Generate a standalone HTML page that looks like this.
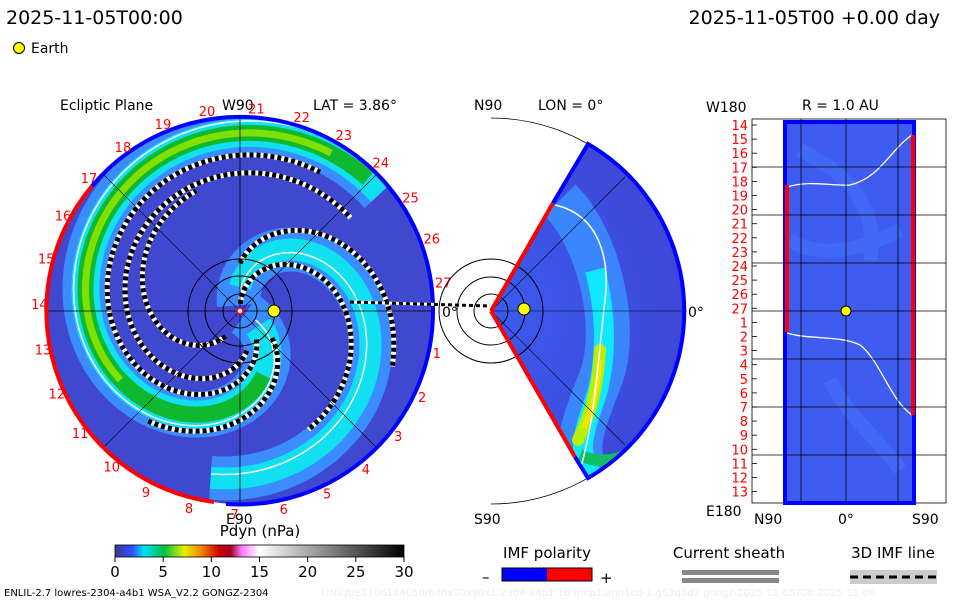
<!DOCTYPE html>
<html><head><meta charset="utf-8"><style>
body{margin:0;background:#fff;width:960px;height:600px;overflow:hidden}
svg{display:block}
text{font-family:"DejaVu Sans","Liberation Sans",sans-serif}
</style></head><body>
<svg id="s" width="960" height="600" viewBox="0 0 960 600">
<defs>
<clipPath id="cl"><circle cx="240" cy="311" r="193"/></clipPath>
<clipPath id="cm"><path d="M491,311 L588,144 A193,193 0 0 1 588,478 Z"/></clipPath>
<linearGradient id="cb" x1="0" x2="1">
<stop offset="0" stop-color="#3a3a90"/><stop offset="0.06" stop-color="#3050ff"/>
<stop offset="0.1" stop-color="#00e0ff"/><stop offset="0.17" stop-color="#00c040"/>
<stop offset="0.24" stop-color="#e8f000"/><stop offset="0.3" stop-color="#f08000"/>
<stop offset="0.36" stop-color="#d00000"/><stop offset="0.4" stop-color="#a00020"/>
<stop offset="0.44" stop-color="#ff80ff"/><stop offset="0.5" stop-color="#ffffff"/>
<stop offset="1" stop-color="#000000"/></linearGradient>
<radialGradient id="mg" cx="491" cy="311" r="193" gradientUnits="userSpaceOnUse">
<stop offset="0" stop-color="#3a5cf0"/><stop offset="1" stop-color="#3e48d8"/></radialGradient>
</defs>
<text x="6" y="24" font-size="19">2025-11-05T00:00</text>
<text x="940" y="24" font-size="19" text-anchor="end">2025-11-05T00 +0.00 day</text>
<circle cx="19" cy="48" r="5.5" fill="#ff0" stroke="#000"/>
<text x="31" y="53" font-size="14">Earth</text>

<g>
<circle cx="240" cy="311" r="193" fill="#4048d0"/>
<g clip-path="url(#cl)" id="arms"></g>
<line x1="47" y1="311" x2="433" y2="311" stroke="#000" stroke-width="0.8"/>
<line x1="240" y1="118" x2="240" y2="504" stroke="#000" stroke-width="0.8"/>
<line x1="104" y1="175" x2="376" y2="447" stroke="#000" stroke-width="0.6"/>
<line x1="104" y1="447" x2="376" y2="175" stroke="#000" stroke-width="0.6"/>
<circle cx="240" cy="311" r="17" fill="none" stroke="#000"/>
<circle cx="240" cy="311" r="35" fill="none" stroke="#000"/>
<circle cx="240" cy="311" r="52" fill="none" stroke="#000"/>
<path d="M92,186 A193,193 0 0 0 214,502" fill="none" stroke="#f00" stroke-width="4"/>
<path d="M92,186 A193,193 0 0 1 433,311 A193,193 0 0 1 226,504" fill="none" stroke="#00f" stroke-width="4"/>
<circle cx="274" cy="311" r="6" fill="#ff0" stroke="#000"/>
<circle cx="240" cy="311" r="3" fill="#fff" stroke="#f00" stroke-width="1.5"/>
<text x="60" y="110" font-size="14">Ecliptic Plane</text>
<text x="222" y="110" font-size="14">W90</text>
<text x="313" y="110" font-size="14">LAT = 3.86°</text>
<text x="226" y="524" font-size="14">E90</text>
<text x="442" y="317" font-size="14">0°</text>
<g id="clock" fill="#f00" font-size="13"></g>
<path d="M350,302 L490,306" stroke="#fff" stroke-width="3" fill="none"/>
<path d="M350,302 L490,306" stroke="#000" stroke-width="3" stroke-dasharray="4 3" fill="none"/>
</g>

<g>
<path d="M491,118 A193,193 0 0 1 491,504" fill="none" stroke="#000" stroke-width="0.8"/>
<path d="M491,311 L588,144 A193,193 0 0 1 588,478 Z" fill="url(#mg)"/>
<g clip-path="url(#cm)">
<path d="M560,200 C600,240 620,330 600,380 C585,420 570,450 590,480" stroke="#3a8cff" stroke-width="44" fill="none" opacity="0.9"/>
<path d="M595,270 C608,320 605,360 598,390 C585,430 575,450 592,475" stroke="#10e8ff" stroke-width="20" fill="none"/>
<path d="M600,350 C598,390 590,415 578,440" stroke="#b8f000" stroke-width="12" fill="none" stroke-linecap="round"/>
<path d="M600,360 C598,390 592,410 584,428" stroke="#f0e800" stroke-width="5" fill="none"/>
<path d="M580,455 C600,465 620,460 640,450" stroke="#10c060" stroke-width="12" fill="none"/>
<path d="M555,205 C600,215 610,260 605,300 C598,360 595,420 580,470" stroke="#fff" stroke-width="1.5" fill="none"/>
</g>
<line x1="491" y1="311" x2="687" y2="311" stroke="#000" stroke-width="0.6"/>
<line x1="491" y1="311" x2="625" y2="177" stroke="#000" stroke-width="0.6"/>
<line x1="491" y1="311" x2="625" y2="445" stroke="#000" stroke-width="0.6"/>
<circle cx="491" cy="311" r="17" fill="none" stroke="#000"/>
<circle cx="491" cy="311" r="34" fill="none" stroke="#000"/>
<circle cx="491" cy="311" r="52" fill="none" stroke="#000"/>
<line x1="491" y1="311" x2="553" y2="203" stroke="#f00" stroke-width="4"/>
<line x1="491" y1="311" x2="575" y2="457" stroke="#f00" stroke-width="4"/>
<path d="M553,203 L588,144 A193,193 0 0 1 588,478 L575,457" fill="none" stroke="#00f" stroke-width="4"/>
<circle cx="524" cy="309" r="6" fill="#ff0" stroke="#000"/>
<text x="474" y="110" font-size="14">N90</text>
<text x="538" y="110" font-size="14">LON = 0°</text>
<text x="474" y="524" font-size="14">S90</text>
<text x="688" y="317" font-size="14">0°</text>
</g>

<g>
<rect x="752" y="119" width="194" height="384" fill="#fff" stroke="#000" stroke-width="0.8"/>
<rect x="785" y="122" width="129" height="381" fill="#3e5cf0"/>
<path d="M800,150 C840,170 880,200 870,260 M830,380 C850,420 880,440 900,470 M790,240 C820,260 860,250 900,230" stroke="#4a80ff" stroke-width="14" fill="none" opacity="0.35"/>
<path d="M787,187 C810,180 830,186 850,185 C880,178 890,150 912,135" stroke="#fff" stroke-width="1.3" fill="none"/>
<path d="M787,333 C810,340 840,335 860,345 C880,360 890,400 912,415" stroke="#fff" stroke-width="1.3" fill="none"/>
<rect x="785" y="122" width="129" height="381" fill="none" stroke="#00f" stroke-width="4"/>
<rect x="785" y="185" width="4" height="147" fill="#f00"/>
<rect x="911" y="135" width="4" height="280" fill="#f00"/>
<g id="rgrid" stroke="#000" stroke-width="0.8"></g>
<circle cx="846" cy="311" r="5" fill="#ff0" stroke="#000"/>
<text x="706" y="112" font-size="14">W180</text>
<text x="802" y="110" font-size="14">R = 1.0 AU</text>
<text x="706" y="516" font-size="14">E180</text>
<text x="754" y="524" font-size="14">N90</text>
<text x="838" y="524" font-size="14">0°</text>
<text x="912" y="524" font-size="14">S90</text>
<g id="rlab" fill="#f00" font-size="13" text-anchor="end"></g>
</g>

<g>
<text x="260" y="536" font-size="15" text-anchor="middle">Pdyn (nPa)</text>
<rect x="115" y="545" width="289" height="12" fill="url(#cb)" stroke="#000" stroke-width="0.8"/>
<g id="cbt" font-size="15" text-anchor="middle"></g>
</g>
<g>
<text x="547" y="558" font-size="15" text-anchor="middle">IMF polarity</text>
<text x="482" y="582" font-size="15">–</text>
<rect x="502" y="568" width="45" height="13" fill="#00f"/>
<rect x="547" y="568" width="45" height="13" fill="#f00"/>
<rect x="502" y="568" width="90" height="13" fill="none" stroke="#000"/>
<text x="600" y="583" font-size="15">+</text>
</g>
<g>
<text x="729" y="558" font-size="15" text-anchor="middle">Current sheath</text>
<rect x="682" y="570" width="97" height="5" fill="#888"/>
<rect x="682" y="578" width="97" height="5" fill="#888"/>
</g>
<g>
<text x="893" y="558" font-size="15" text-anchor="middle">3D IMF line</text>
<rect x="850" y="570" width="87" height="14" fill="#ccc"/>
<line x1="850" y1="577" x2="937" y2="577" stroke="#000" stroke-width="3" stroke-dasharray="8 5"/>
</g>
<text x="4" y="596" font-size="10">ENLIL-2.7 lowres-2304-a4b1 WSA_V2.2 GONGZ-2304</text>
<text x="322" y="596" font-size="10" fill="#eee">UNIQUE1106144050/640x30x90x1.2304-a4b1.16-mcp1umn1cd-1.g53q5d2.gongz-2025-11-05T00  2025-11-06</text>
</svg>
<script>
const cbTicks=[0,5,10,15,20,25,30];
const clockLabels=["1","2","3","4","5","6","7","8","9","10","11","12","13","14","15","16","17","18","19","20","21","22","23","24","25","26","27"];
const clockAngles=[12,25,38,51,64,77,91,104,117,130,143,156,169,182,195,208,221,234,247,260,274,287,300,313,326,339,352];
const rLabels=["14","15","16","17","18","19","20","21","22","23","24","25","26","27","1","2","3","4","5","6","7","8","9","10","11","12","13"];
const NS="http://www.w3.org/2000/svg";
function mk(t,a,p){const e=document.createElementNS(NS,t);for(const k in a)e.setAttribute(k,a[k]);p.appendChild(e);return e;}
const cbt=document.getElementById('cbt');
const xs=v=>115+v/30*289;
cbTicks.forEach(v=>{const l=mk('line',{x1:xs(v),y1:557,x2:xs(v),y2:562,stroke:'#000'},cbt);


const t=mk('text',{x:xs(v),y:577},cbt);t.textContent=v;

});
const ck=document.getElementById('clock');
clockLabels.forEach((s,i)=>{const a=clockAngles[i]*Math.PI/180;
const t=mk('text',{x:240+203*Math.cos(a)-6,y:311+203*Math.sin(a)+5},ck);t.textContent=s;

});
const rl=document.getElementById('rlab'),rg=document.getElementById('rgrid');
rLabels.forEach((s,i)=>{const y=125+i*14.1;const t=mk('text',{x:748,y:y+5},rl);t.textContent=s;


mk('line',{x1:752,y1:y,x2:757,y2:y},rg);});
[167,215,263,311,359,407,455].forEach(y=>mk('line',{x1:752,y1:y,x2:946,y2:y},rg));
[801,846,898].forEach(x=>mk('line',{x1:x,y1:119,x2:x,y2:503},rg));
// spiral arms r(a) = R - 136*exp(-(a-a0)/100) + off
const g=document.getElementById('arms');
function sp(a0,off,s,e){let d='';for(let a=s;a<=e;a+=2){const r=195-136*Math.exp(-(a-a0)/100)+off;if(r<4)continue;const t=a*Math.PI/180;d+=(d?'L':'M')+(240+r*Math.cos(t)).toFixed(1)+','+(311+r*Math.sin(t)).toFixed(1);}return d;}
function P(d,st,w,extra){return mk('path',Object.assign({d:d,stroke:st,"stroke-width":w,fill:'none'},extra||{}),g);}
function dash(a0,off,s,e){P(sp(a0,off,s,e),'#fff',5);P(sp(a0,off,s,e),'#000',5,{"stroke-dasharray":"4 3"});}
// green arm
P(sp(63,0,30,320),'#3a8cff',46);
P(sp(63,0,40,320),'#10e0f0',28);
P(sp(63,0,70,315),'#10b830',16);
P(sp(63,0,150,300),'#80e000',7);
P(sp(63,12,30,320),'#fff',1.5);
// cyan arm
P(sp(-67,0,-100,100),'#3a8cff',44);
P(sp(-67,0,-90,100),'#10e0f0',22);
P(sp(-67,-4,-90,100),'#fff',1.5);
// dashed field lines
dash(63,-22,60,300);
dash(63,-40,80,320);
dash(63,18,40,130);
dash(-67,-20,-110,60);
dash(-67,24,-90,20);
dash(120,-30,120,250);
</script>
</body></html>
